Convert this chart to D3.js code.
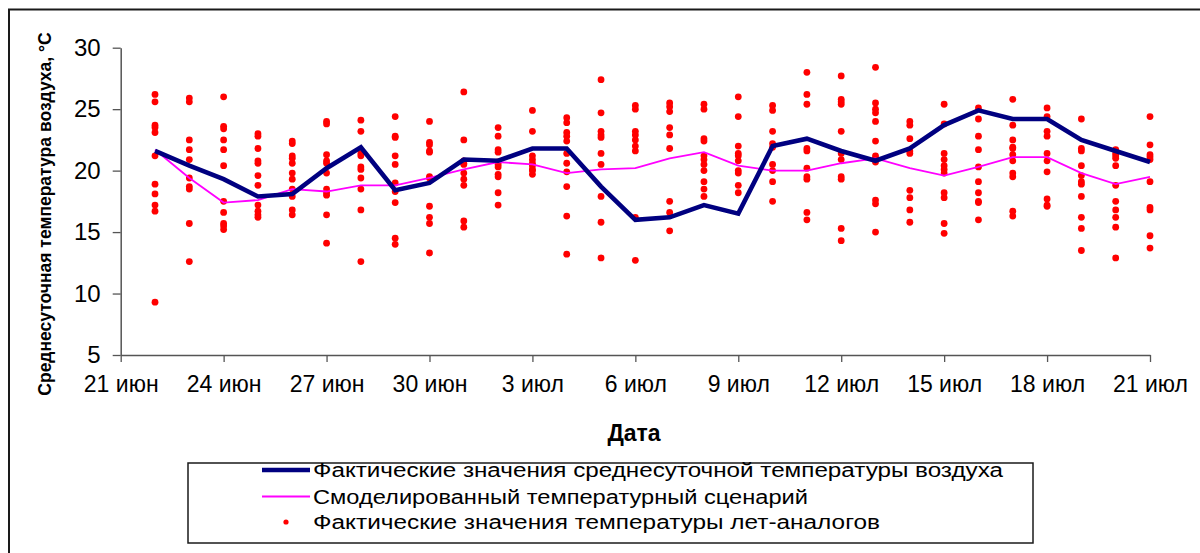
<!DOCTYPE html>
<html>
<head>
<meta charset="utf-8">
<script src="https://cdn.jsdelivr.net/npm/d3@7"></script>
<style>
  body { margin: 0; background: #fff; }
  text { font-family: "Liberation Sans", Arial, sans-serif; fill: #000; }
</style>
</head>
<body>
<div id="chart"></div>
<script>
// Dates (categories), one per day from 22 June to 21 July
const days = [
  "06-22", "06-23", "06-24", "06-25", "06-26", "06-27", "06-28", "06-29", "06-30",
  "07-01", "07-02", "07-03", "07-04", "07-05", "07-06", "07-07", "07-08", "07-09",
  "07-10", "07-11", "07-12", "07-13", "07-14", "07-15", "07-16", "07-17", "07-18",
  "07-19", "07-20", "07-21"
];

// Actual mean daily air temperature
const actual = [21.6, 20.4, 19.3, 17.9, 18.1, 20.2, 21.9, 18.4, 19.0, 20.9,
  20.8, 21.8, 21.8, 18.7, 16.0, 16.2, 17.2, 16.5, 22.0, 22.6,
  21.6, 20.8, 21.8, 23.7, 24.9, 24.2, 24.2, 22.5, 21.6, 20.7];

// Modelled temperature scenario
const modelled = [21.7, 19.4, 17.4, 17.6, 18.5, 18.3, 18.8, 18.8, 19.4, 20.1,
  20.7, 20.5, 19.8, 20.1, 20.2, 21.0, 21.5, 20.4, 20.0, 20.0,
  20.6, 21.0, 20.2, 19.6, 20.3, 21.1, 21.1, 19.8, 18.9, 19.5];

// Actual temperatures of analogue years, per day
const analogs = [
  [26.2, 25.6, 23.7, 23.5, 23.1, 21.2, 18.9, 18.1, 17.2, 16.7, 9.3],
  [25.9, 25.6, 22.5, 21.7, 20.9, 19.4, 18.7, 18.5, 15.7, 12.6],
  [26.0, 23.6, 23.4, 22.5, 21.7, 20.4, 17.5, 16.6, 15.7, 15.5, 15.2],
  [23.0, 22.8, 21.8, 20.8, 20.6, 19.6, 18.8, 17.2, 16.7, 16.4, 16.2],
  [22.4, 22.2, 21.2, 21.0, 20.6, 19.8, 19.3, 18.5, 17.9, 16.8, 16.4],
  [24.0, 23.8, 21.3, 20.8, 20.6, 19.8, 18.5, 18.2, 18.0, 16.4, 14.1],
  [24.1, 23.2, 21.4, 21.2, 20.3, 20.1, 19.4, 18.5, 16.8, 12.6],
  [24.4, 22.8, 22.7, 21.2, 20.5, 19.0, 18.3, 17.4, 14.5, 14.0],
  [24.0, 22.3, 22.1, 21.6, 21.5, 19.5, 19.4, 17.1, 16.2, 15.7, 13.3],
  [26.4, 22.5, 20.8, 20.6, 20.5, 19.8, 19.3, 18.8, 15.9, 15.4],
  [23.5, 22.8, 21.7, 21.5, 20.7, 20.5, 20.3, 19.7, 19.5, 18.2, 17.2],
  [24.9, 23.2, 21.2, 20.9, 20.6, 20.4, 20.1, 20.0, 19.7],
  [24.3, 23.9, 23.1, 22.8, 22.4, 21.4, 20.6, 19.9, 18.7, 16.3, 13.2],
  [27.4, 24.7, 23.2, 22.9, 22.7, 21.4, 20.5, 17.9, 15.8, 12.9],
  [25.3, 25.0, 23.2, 22.9, 22.5, 22.0, 21.6, 16.2, 12.7],
  [25.5, 25.2, 24.8, 23.5, 22.9, 21.8, 17.5, 16.6, 15.1],
  [25.4, 25.0, 22.6, 22.4, 21.2, 20.9, 20.5, 20.0, 19.1, 18.5, 17.9],
  [26.0, 24.4, 22.0, 21.4, 21.2, 20.8, 20.0, 19.8, 18.8, 18.2],
  [25.3, 24.9, 23.2, 22.2, 21.9, 20.5, 20.0, 19.1, 17.5],
  [28.0, 26.2, 25.4, 21.8, 21.6, 20.2, 19.5, 19.3, 16.6, 16.0],
  [27.7, 25.8, 25.6, 25.4, 23.2, 21.4, 20.9, 19.5, 19.3, 15.3, 14.3],
  [28.4, 25.5, 25.0, 24.7, 24.0, 22.4, 21.2, 21.0, 20.7, 17.6, 17.3, 15.0],
  [24.0, 23.7, 22.6, 21.6, 21.4, 18.4, 17.8, 16.8, 15.8],
  [25.4, 23.8, 21.4, 20.9, 20.4, 20.1, 19.8, 18.2, 17.8, 15.7, 14.9],
  [25.1, 24.2, 22.8, 21.7, 20.3, 19.1, 18.2, 17.5, 17.4, 16.0],
  [25.8, 23.7, 22.5, 21.9, 21.8, 21.3, 20.8, 19.8, 19.5, 16.7, 16.3],
  [25.1, 24.4, 23.2, 22.8, 21.4, 20.8, 19.9, 17.7, 17.2, 17.1],
  [24.2, 21.8, 21.6, 20.4, 19.6, 19.1, 18.9, 17.9, 16.2, 15.3, 13.5],
  [21.7, 21.4, 21.2, 21.0, 20.4, 18.8, 17.5, 16.8, 16.2, 15.4, 12.9],
  [24.4, 22.1, 21.3, 21.1, 20.9, 19.1, 17.0, 16.8, 14.7, 13.7]
];

const yTicks = [5, 10, 15, 20, 25, 30];
const monthNames = ["янв", "фев", "мар", "апр", "май", "июн", "июл", "авг", "сен", "окт", "ноя", "дек"];
const legendLabels = [
  "Фактические значения среднесуточной температуры воздуха",
  "Смоделированный температурный сценарий",
  "Фактические значения температуры лет-аналогов"
];

const W = 1200, H = 553;
const plot = { left: 120.7, right: 1150, top: 47.7, bottom: 355 };

const parse = d3.timeParse("%Y-%m-%d");
const dates = days.map(d => parse("2010-" + d));

const svg = d3.select("#chart").append("svg")
  .attr("width", W)
  .attr("height", H);

// outer chart frame (runs past the right and bottom edges)
svg.append("rect")
  .attr("x", 9).attr("y", 9.5)
  .attr("width", 1300).attr("height", 700)
  .attr("fill", "none")
  .attr("stroke", "#1a1a1a")
  .attr("stroke-width", 2);

const x = d3.scaleTime()
  .domain([parse("2010-06-21"), parse("2010-07-21")])
  .range([plot.left, plot.right]);

const y = d3.scaleLinear()
  .domain([5, 30])
  .range([plot.bottom, plot.top]);

// x ticks every 3 days from the start of the domain
const xTicks = d3.timeDay.range(x.domain()[0], d3.timeDay.offset(x.domain()[1], 1), 3);
const fmt = d => d.getDate() + " " + monthNames[d.getMonth()];

const xAxis = svg.append("g")
  .attr("transform", "translate(0," + plot.bottom + ")")
  .call(d3.axisBottom(x).tickValues(xTicks).tickFormat(fmt).tickSize(7).tickSizeOuter(0).tickPadding(14));
xAxis.select(".domain").attr("stroke", "#555").attr("stroke-width", 1.5);
xAxis.selectAll(".tick line").attr("stroke", "#555").attr("stroke-width", 1.3);
xAxis.selectAll(".tick text")
  .attr("font-size", 23)
  .attr("font-family", "Liberation Sans, Arial, sans-serif")
  .attr("fill", "#000");

const yAxis = svg.append("g")
  .attr("transform", "translate(" + plot.left + ",0)")
  .call(d3.axisLeft(y).tickValues(yTicks).tickSize(8).tickSizeOuter(0).tickPadding(12));
yAxis.select(".domain").attr("stroke", "#555").attr("stroke-width", 1.5);
yAxis.selectAll(".tick line").attr("stroke", "#555").attr("stroke-width", 1.3);
yAxis.selectAll(".tick text")
  .attr("font-size", 24)
  .attr("font-family", "Liberation Sans, Arial, sans-serif")
  .attr("fill", "#000");

// axis titles
svg.append("text")
  .attr("transform", "translate(51,214) rotate(-90)")
  .attr("text-anchor", "middle")
  .attr("font-size", 17.5)
  .attr("font-weight", "bold")
  .text("Среднесуточная температура воздуха, °С");

svg.append("text")
  .attr("x", 634).attr("y", 441)
  .attr("text-anchor", "middle")
  .attr("font-size", 23)
  .attr("font-weight", "bold")
  .text("Дата");

// analog-year dots
const dotData = [];
analogs.forEach((vals, i) => vals.forEach(v => dotData.push({ date: dates[i], v: v })));

svg.append("g").selectAll("circle")
  .data(dotData)
  .enter().append("circle")
  .attr("cx", d => x(d.date))
  .attr("cy", d => y(d.v))
  .attr("r", 3.4)
  .attr("fill", "#ff0000");

const line = d3.line()
  .x((d, i) => x(dates[i]))
  .y(d => y(d));

svg.append("path")
  .datum(modelled)
  .attr("d", line)
  .attr("fill", "none")
  .attr("stroke", "#ff00ff")
  .attr("stroke-width", 1.8);

svg.append("path")
  .datum(actual)
  .attr("d", line)
  .attr("fill", "none")
  .attr("stroke", "#000080")
  .attr("stroke-width", 4.6)
  .attr("stroke-linejoin", "miter");

// legend
const legend = svg.append("g");
legend.append("rect")
  .attr("x", 188).attr("y", 463)
  .attr("width", 845).attr("height", 80)
  .attr("fill", "#fff")
  .attr("stroke", "#1a1a1a")
  .attr("stroke-width", 1.5);

const rowY = [470, 496.5, 522];
const textLen = [690, 495, 567];

legend.append("line")
  .attr("x1", 262).attr("x2", 310)
  .attr("y1", rowY[0]).attr("y2", rowY[0])
  .attr("stroke", "#000080").attr("stroke-width", 4.6);
legend.append("line")
  .attr("x1", 262).attr("x2", 310)
  .attr("y1", rowY[1]).attr("y2", rowY[1])
  .attr("stroke", "#ff00ff").attr("stroke-width", 1.8);
legend.append("circle")
  .attr("cx", 286).attr("cy", rowY[2])
  .attr("r", 2.6)
  .attr("fill", "#ff0000");

legend.selectAll("text.lg")
  .data(legendLabels)
  .enter().append("text")
  .attr("class", "lg")
  .attr("x", 313)
  .attr("y", (d, i) => rowY[i] + 7)
  .attr("font-size", 20)
  .attr("textLength", (d, i) => textLen[i])
  .attr("lengthAdjust", "spacingAndGlyphs")
  .text(d => d);
</script>
</body>
</html>
